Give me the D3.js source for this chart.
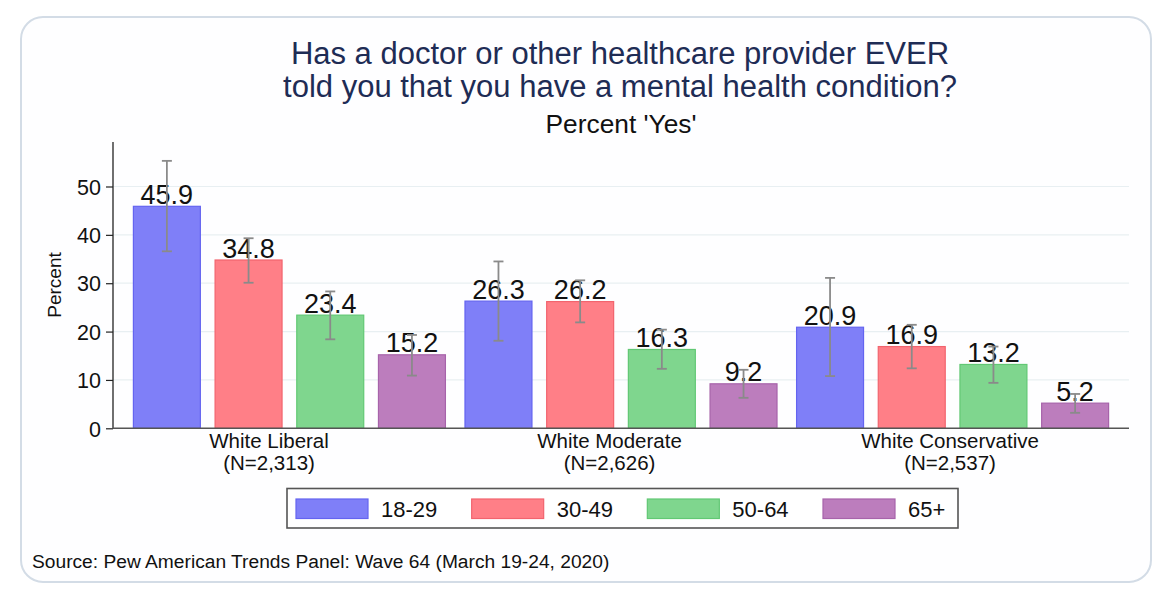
<!DOCTYPE html>
<html>
<head>
<meta charset="utf-8">
<script src="https://cdn.jsdelivr.net/npm/d3@7"></script>
<style>
  html, body { margin: 0; padding: 0; background: #ffffff; }
  svg { display: block; font-family: "Liberation Sans", Arial, Helvetica, sans-serif; }
</style>
</head>
<body>
<svg id="chart" width="1172" height="602"></svg>
<script>
// ---- data ----
const groups = ["White Liberal", "White Moderate", "White Conservative"];
const groupNs = ["(N=2,313)", "(N=2,626)", "(N=2,537)"];
const ages = ["18-29", "30-49", "50-64", "65+"];
const values = [
  [45.9, 34.8, 23.4, 15.2],
  [26.3, 26.2, 16.3, 9.2],
  [20.9, 16.9, 13.2, 5.2]
];
const ciLow = [
  [36.6, 30.1, 18.4, 10.9],
  [18.1, 21.9, 12.3, 6.3],
  [10.8, 12.4, 9.4, 3.2]
];
const ciHigh = [
  [55.3, 39.3, 28.3, 19.3],
  [34.5, 30.6, 20.4, 12.1],
  [31.1, 21.4, 16.9, 7.1]
];
const yTicks = [0, 10, 20, 30, 40, 50];
const yMax = 59.2;
const titleLines = ["Has a doctor or other healthcare provider EVER", "told you that you have a mental health condition?"];
const subtitle = "Percent 'Yes'";
const yTitle = "Percent";
const source = "Source: Pew American Trends Panel: Wave 64 (March 19-24, 2020)";

const fills = ["#7f7ff8", "#ff7f87", "#7fd68e", "#bc7dbd"];
const strokes = ["#6464f0", "#f2646e", "#62c874", "#a763aa"];

// ---- layout ----
const svg = d3.select("#chart");
const plot = { left: 113, right: 1129, top: 142, bottom: 428.3 };

// card
svg.append("rect")
  .attr("x", 21).attr("y", 17).attr("width", 1130).attr("height", 565)
  .attr("rx", 22).attr("ry", 22)
  .attr("fill", "#fefeff").attr("stroke", "#d3dce6").attr("stroke-width", 2);

const x0 = d3.scaleBand().domain(groups).range([plot.left, plot.right])
  .paddingInner(0.056).paddingOuter(0.06);
const x1 = d3.scaleBand().domain(ages).range([0, x0.bandwidth()])
  .paddingInner(0.168).paddingOuter(0);
const y = d3.scaleLinear().domain([0, yMax]).range([plot.bottom, plot.top]);
const xLabel = d3.scalePoint().domain(groups).range([269, 950]);

// gridlines
svg.append("g").selectAll("line")
  .data(yTicks.filter(t => t > 0))
  .join("line")
  .attr("x1", plot.left).attr("x2", plot.right)
  .attr("y1", d => y(d)).attr("y2", d => y(d))
  .attr("stroke", "#e8eff2").attr("stroke-width", 1.2);

// y axis
const yAxis = svg.append("g")
  .attr("transform", `translate(${plot.left},0)`)
  .call(d3.axisLeft(y).tickValues(yTicks).tickSize(7).tickPadding(5).tickFormat(d3.format("d")));
yAxis.select(".domain").attr("stroke", "#222").attr("stroke-width", 1.3)
  .attr("d", `M0,${plot.top}V${plot.bottom}`);
yAxis.selectAll(".tick line").attr("stroke", "#222").attr("stroke-width", 1.2);
yAxis.selectAll(".tick text").attr("fill", "#111").style("font-size", "21.5px")
  .attr("dy", "0.36em");

// y title
svg.append("text")
  .attr("transform", `translate(${61},${285}) rotate(-90)`)
  .attr("text-anchor", "middle")
  .style("font-size", "19px").attr("fill", "#111")
  .text(yTitle);

// bars
const gGroups = svg.append("g").selectAll("g")
  .data(groups)
  .join("g")
  .attr("transform", d => `translate(${x0(d)},0)`);

gGroups.each(function(g, gi) {
  const sel = d3.select(this);
  const rows = ages.map((a, ai) => ({ a, ai, v: values[gi][ai], lo: ciLow[gi][ai], hi: ciHigh[gi][ai] }));
  sel.selectAll("rect").data(rows).join("rect")
    .attr("x", d => x1(d.a) + 0.5)
    .attr("width", x1.bandwidth() - 1)
    .attr("y", d => y(d.v))
    .attr("height", d => y(0) - y(d.v))
    .attr("fill", d => fills[d.ai])
    .attr("stroke", d => strokes[d.ai])
    .attr("stroke-width", 1.2);
  // value labels
  sel.selectAll("text.val").data(rows).join("text")
    .attr("class", "val")
    .attr("x", d => x1(d.a) + x1.bandwidth() / 2)
    .attr("y", d => y(d.v) - 2.5)
    .attr("text-anchor", "middle")
    .style("font-size", "27px").attr("fill", "#111")
    .text(d => d.v.toFixed(1));
  // error bars
  const eb = sel.selectAll("g.eb").data(rows).join("g").attr("class", "eb")
    .attr("stroke", "#8a8a8a").attr("stroke-width", 1.8).attr("fill", "none");
  eb.append("line")
    .attr("x1", d => x1(d.a) + x1.bandwidth() / 2).attr("x2", d => x1(d.a) + x1.bandwidth() / 2)
    .attr("y1", d => y(d.lo)).attr("y2", d => y(d.hi));
  eb.append("line")
    .attr("x1", d => x1(d.a) + x1.bandwidth() / 2 - 5).attr("x2", d => x1(d.a) + x1.bandwidth() / 2 + 5)
    .attr("y1", d => y(d.lo)).attr("y2", d => y(d.lo));
  eb.append("line")
    .attr("x1", d => x1(d.a) + x1.bandwidth() / 2 - 5).attr("x2", d => x1(d.a) + x1.bandwidth() / 2 + 5)
    .attr("y1", d => y(d.hi)).attr("y2", d => y(d.hi));
});

// x axis line
svg.append("line")
  .attr("x1", plot.left).attr("x2", plot.right)
  .attr("y1", y(0)).attr("y2", y(0))
  .attr("stroke", "#555").attr("stroke-width", 1.6);

// category labels
const catLab = svg.append("g").selectAll("text")
  .data(groups)
  .join("text")
  .attr("x", d => xLabel(d))
  .attr("text-anchor", "middle")
  .style("font-size", "20.5px").attr("fill", "#111");
catLab.append("tspan").attr("x", d => xLabel(d)).attr("y", 448).text(d => d);
catLab.append("tspan").attr("x", d => xLabel(d)).attr("y", 470).text((d, i) => groupNs[i]);

// titles
const plotCenter = (plot.left + plot.right) / 2;
svg.append("g").selectAll("text").data(titleLines).join("text")
  .attr("x", plotCenter - 1)
  .attr("y", (d, i) => 64 + i * 33)
  .attr("text-anchor", "middle")
  .style("font-size", "31px").attr("fill", "#1e2c55")
  .text(d => d);
svg.append("text")
  .attr("x", plotCenter)
  .attr("y", 133)
  .attr("text-anchor", "middle")
  .style("font-size", "26.3px").attr("fill", "#111")
  .text(subtitle);

// legend
const legend = svg.append("g");
legend.append("rect")
  .attr("x", 287).attr("y", 488.5).attr("width", 671).attr("height", 39.5)
  .attr("fill", "#ffffff").attr("stroke", "#555").attr("stroke-width", 1.6);
const legX = d3.scalePoint().domain(ages).range([296, 823]);
const li = legend.selectAll("g.item").data(ages).join("g").attr("class", "item")
  .attr("transform", d => `translate(${legX(d)},0)`);
li.append("rect")
  .attr("x", 0).attr("y", 499).attr("width", 72).attr("height", 19.5)
  .attr("fill", (d, i) => fills[i]).attr("stroke", (d, i) => strokes[i]).attr("stroke-width", 1.2);
li.append("text")
  .attr("x", 85).attr("y", 517)
  .style("font-size", "22px").attr("fill", "#111")
  .text(d => d);

// source
svg.append("text")
  .attr("x", 32).attr("y", 568)
  .style("font-size", "19.2px").attr("fill", "#111")
  .text(source);
</script>
</body>
</html>
